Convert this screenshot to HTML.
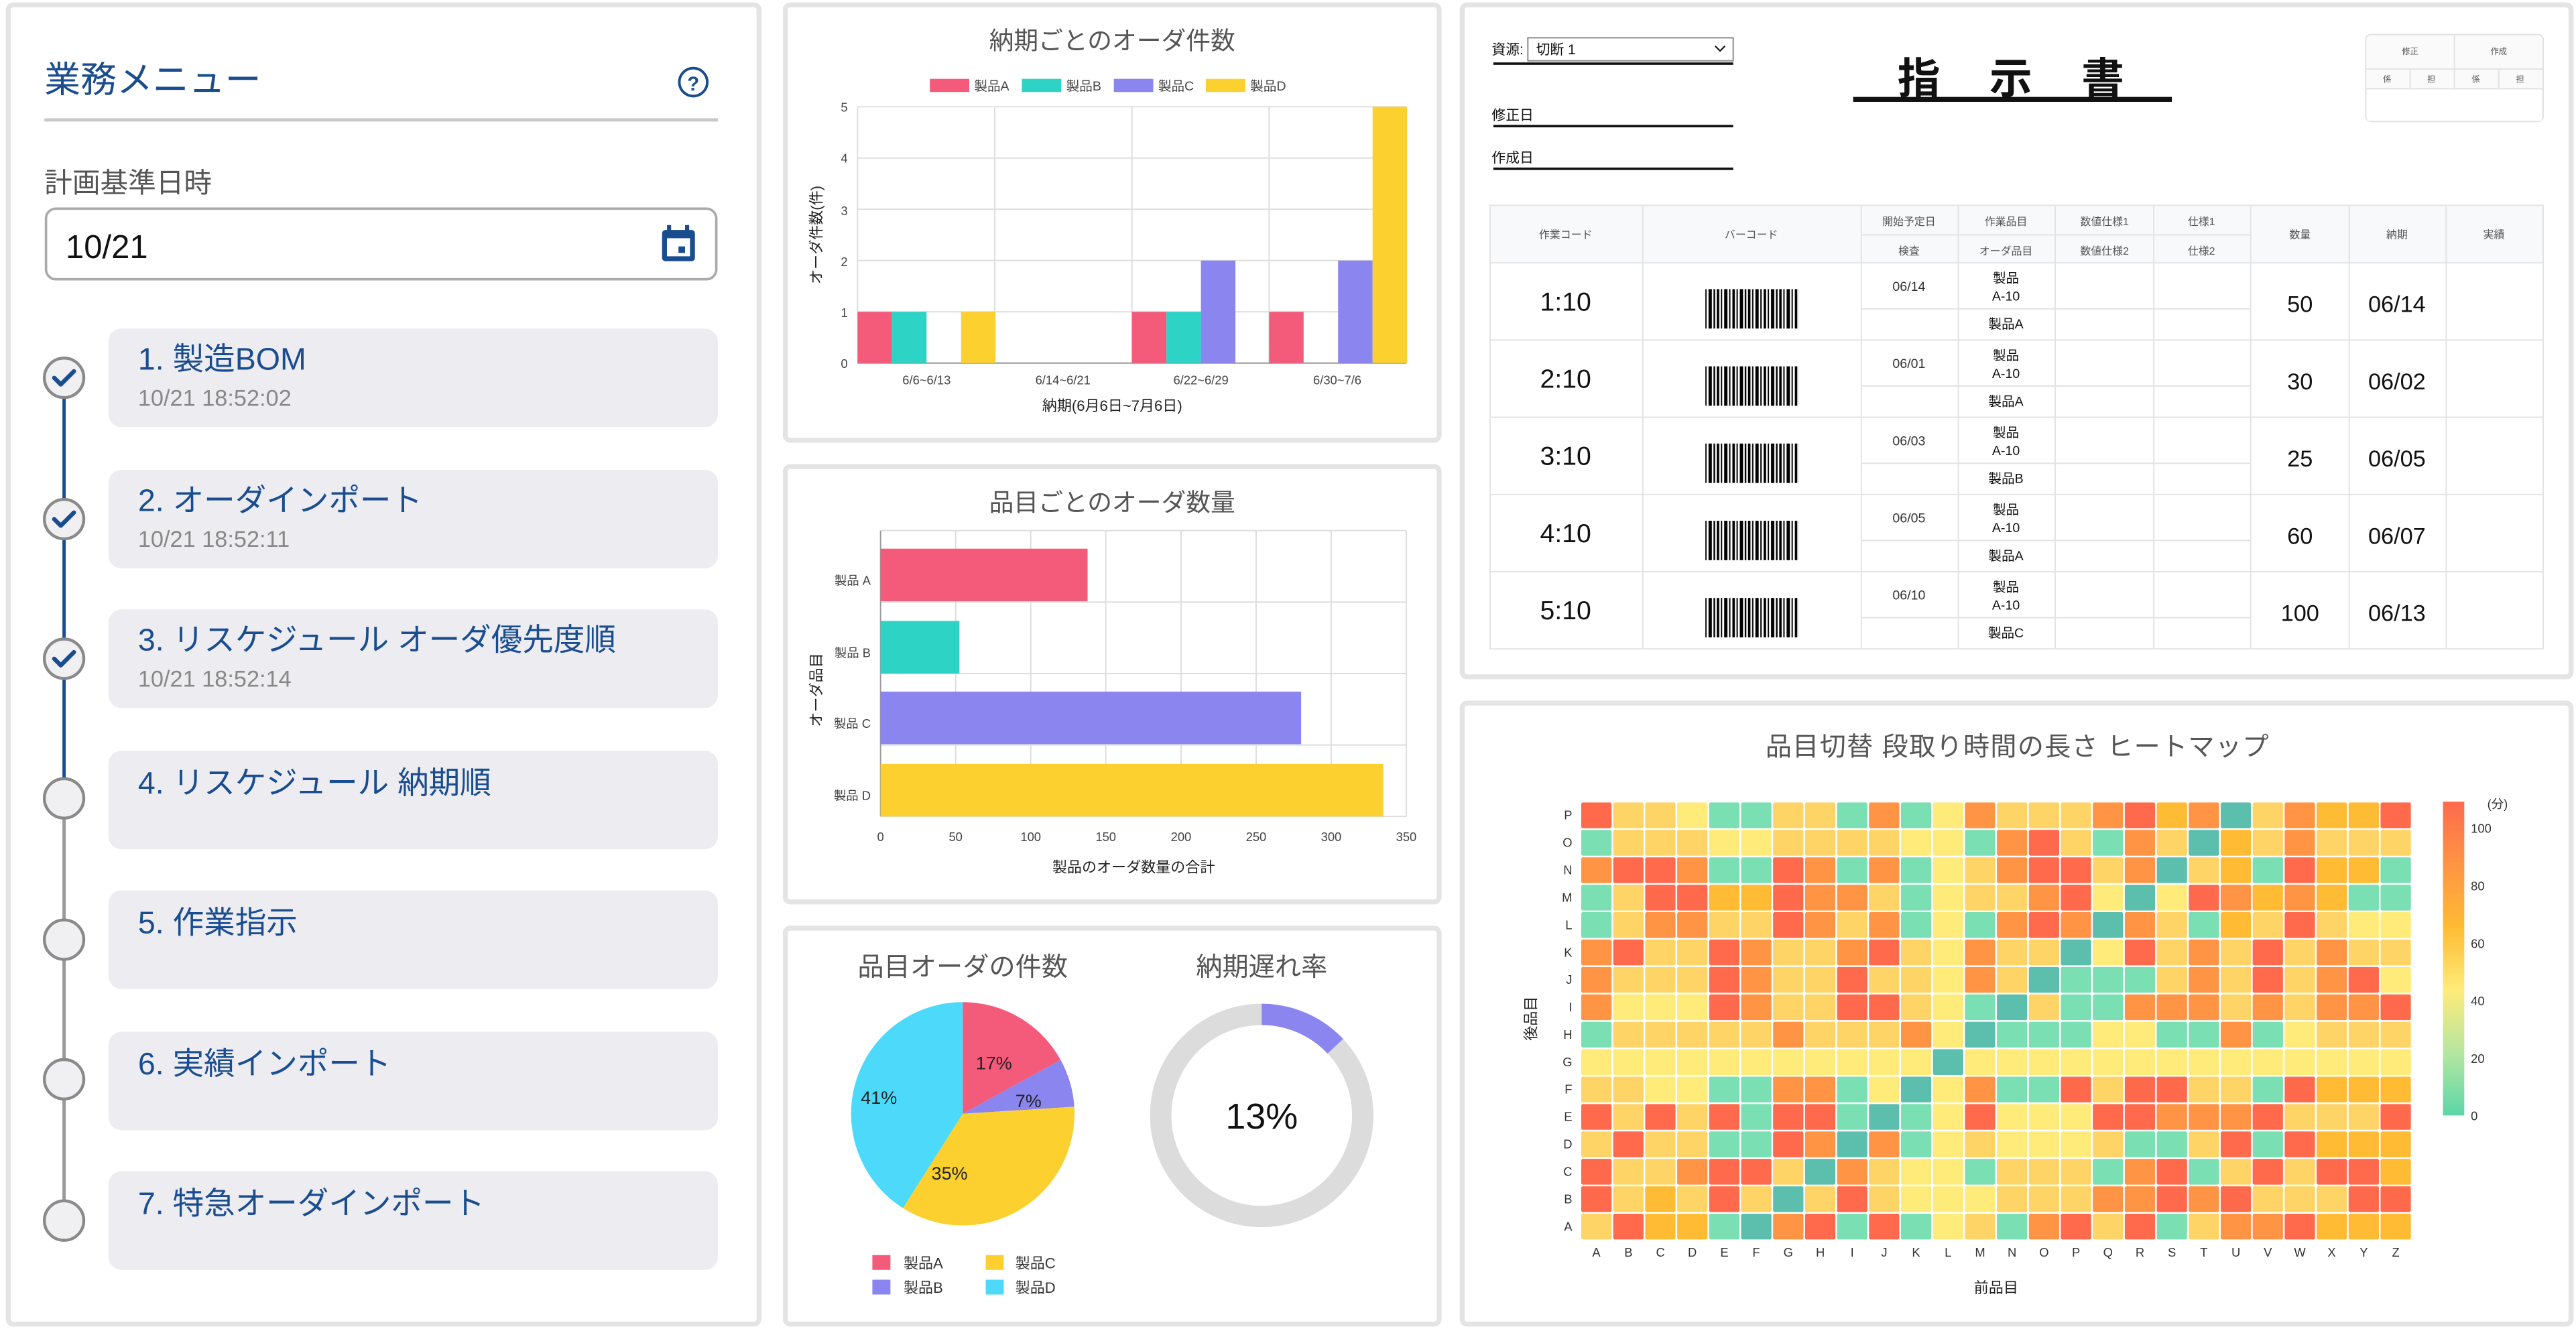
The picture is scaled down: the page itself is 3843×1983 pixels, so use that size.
<!DOCTYPE html>
<html><head><meta charset="utf-8">
<style>
html,body{margin:0;padding:0;background:#fff;}
svg{display:block;font-family:"Liberation Sans","Noto Sans CJK JP",sans-serif;}
</style></head>
<body>
<svg id="s" xmlns="http://www.w3.org/2000/svg" width="3843" height="1983" viewBox="0 0 1568 809" preserveAspectRatio="none">
<defs>
<pattern id="bc" x="0" y="0" width="19" height="30" patternUnits="userSpaceOnUse">
<rect x="0" y="0" width="1.5" height="30" fill="#000"/><rect x="2.5" y="0" width="0.8" height="30" fill="#000"/>
<rect x="4.5" y="0" width="2" height="30" fill="#000"/><rect x="7.5" y="0" width="0.8" height="30" fill="#000"/>
<rect x="9.5" y="0" width="1.5" height="30" fill="#000"/><rect x="12" y="0" width="0.8" height="30" fill="#000"/>
<rect x="14" y="0" width="2" height="30" fill="#000"/><rect x="17" y="0" width="1" height="30" fill="#000"/>
</pattern>
<linearGradient id="cb" x1="0" y1="0" x2="0" y2="1">
<stop offset="0" stop-color="#ff6a4d"/><stop offset="0.2" stop-color="#ff9444"/><stop offset="0.4" stop-color="#ffbb33"/>
<stop offset="0.6" stop-color="#ffeb7a"/><stop offset="0.8" stop-color="#b5e6a0"/><stop offset="1" stop-color="#5cd6a8"/>
</linearGradient>
</defs>
<rect width="1568" height="809" fill="#fff"/>
<!-- panels -->
<g fill="#fff" stroke="#e4e4e4" stroke-width="3">
<rect x="5" y="3" width="457" height="803" rx="3"/>
<rect x="478" y="3" width="398" height="265" rx="3"/>
<rect x="478" y="284" width="398" height="265" rx="3"/>
<rect x="478" y="565" width="398" height="241" rx="3"/>
<rect x="890" y="3" width="675" height="409" rx="3"/>
<rect x="890" y="428" width="675" height="378" rx="3"/>
</g>

<!-- LEFT PANEL -->
<text x="27" y="56" font-size="22" fill="#1a4d8f">業務メニュー</text>
<circle cx="422" cy="50" r="8.5" fill="none" stroke="#1a4d8f" stroke-width="1.6"/>
<text x="422" y="55" font-size="12" fill="#1a4d8f" text-anchor="middle" font-weight="bold">?</text>
<rect x="27" y="72" width="410" height="2" fill="#c8c8c8"/>
<text x="27" y="117" font-size="17" fill="#555">計画基準日時</text>
<rect x="28" y="127" width="408" height="43" rx="6" fill="#fff" stroke="#aaa" stroke-width="1.5"/>
<text x="40" y="157" font-size="20" fill="#111">10/21</text>
<g fill="#1a4d8f"><rect x="403" y="140" width="20" height="19" rx="2"/><rect x="406" y="145" width="14" height="11" fill="#fff"/><rect x="413" y="150" width="4" height="4"/><rect x="406" y="137" width="2.5" height="5"/><rect x="417" y="137" width="2.5" height="5"/></g>
<!-- step line -->
<line x1="39" y1="230" x2="39" y2="486" stroke="#1a4d8f" stroke-width="2"/>
<line x1="39" y1="486" x2="39" y2="742" stroke="#999" stroke-width="2"/>
<g fill="#ececf1">
<rect x="66" y="200" width="371" height="60" rx="8"/><rect x="66" y="286" width="371" height="60" rx="8"/>
<rect x="66" y="371" width="371" height="60" rx="8"/><rect x="66" y="457" width="371" height="60" rx="8"/>
<rect x="66" y="542" width="371" height="60" rx="8"/><rect x="66" y="628" width="371" height="60" rx="8"/>
<rect x="66" y="713" width="371" height="60" rx="8"/>
</g>
<g fill="#f0f0f3" stroke="#8a8a8a" stroke-width="1.8">
<circle cx="39" cy="230" r="12"/><circle cx="39" cy="316" r="12"/><circle cx="39" cy="401" r="12"/>
<circle cx="39" cy="486" r="12"/><circle cx="39" cy="572" r="12"/><circle cx="39" cy="657" r="12"/><circle cx="39" cy="743" r="12"/>
</g>
<g fill="none" stroke="#1a4d8f" stroke-width="2.6" stroke-linecap="round" stroke-linejoin="round">
<path d="M33 230 l4 4 l8 -8"/><path d="M33 316 l4 4 l8 -8"/><path d="M33 401 l4 4 l8 -8"/>
</g>
<g font-size="19" fill="#1a4d8f">
<text x="84" y="225">1. 製造BOM</text><text x="84" y="311">2. オーダインポート</text>
<text x="84" y="396">3. リスケジュール  オーダ優先度順</text><text x="84" y="483">4. リスケジュール  納期順</text>
<text x="84" y="568">5. 作業指示</text><text x="84" y="654">6. 実績インポート</text><text x="84" y="739">7. 特急オーダインポート</text>
</g>
<g font-size="14" fill="#888">
<text x="84" y="247">10/21 18:52:02</text><text x="84" y="333">10/21 18:52:11</text><text x="84" y="418">10/21 18:52:14</text>
</g>

<!-- CHART 1 -->
<text x="677" y="30" font-size="15" fill="#555" text-anchor="middle">納期ごとのオーダ件数</text>
<g font-size="8" fill="#444">
<rect x="566" y="48" width="24" height="8" fill="#f45b7a"/><text x="593" y="55">製品A</text>
<rect x="622" y="48" width="24" height="8" fill="#2dd4c5"/><text x="649" y="55">製品B</text>
<rect x="678" y="48" width="24" height="8" fill="#8b85f0"/><text x="705" y="55">製品C</text>
<rect x="734" y="48" width="24" height="8" fill="#fcd12f"/><text x="761" y="55">製品D</text>
</g>
<g stroke="#ddd" stroke-width="0.8">
<line x1="522" y1="65" x2="856" y2="65"/><line x1="522" y1="96.2" x2="856" y2="96.2"/><line x1="522" y1="127.4" x2="856" y2="127.4"/>
<line x1="522" y1="158.6" x2="856" y2="158.6"/><line x1="522" y1="189.8" x2="856" y2="189.8"/>
<line x1="522" y1="65" x2="522" y2="221"/><line x1="605.5" y1="65" x2="605.5" y2="221"/><line x1="689" y1="65" x2="689" y2="221"/><line x1="772.5" y1="65" x2="772.5" y2="221"/><line x1="856" y1="65" x2="856" y2="221"/>
</g>
<line x1="522" y1="221" x2="856" y2="221" stroke="#999" stroke-width="0.8"/>
<g font-size="7.5" fill="#444" text-anchor="end">
<text x="516" y="224">0</text><text x="516" y="193">1</text><text x="516" y="162">2</text><text x="516" y="131">3</text><text x="516" y="99">4</text><text x="516" y="68">5</text>
</g>
<g>
<rect x="522" y="189.8" width="21" height="31.2" fill="#f45b7a"/><rect x="543" y="189.8" width="21" height="31.2" fill="#2dd4c5"/><rect x="585" y="189.8" width="21" height="31.2" fill="#fcd12f"/>
<rect x="689" y="189.8" width="21" height="31.2" fill="#f45b7a"/><rect x="710" y="189.8" width="21" height="31.2" fill="#2dd4c5"/><rect x="731" y="158.6" width="21" height="62.4" fill="#8b85f0"/>
<rect x="772.5" y="189.8" width="21" height="31.2" fill="#f45b7a"/><rect x="814.5" y="158.6" width="21" height="62.4" fill="#8b85f0"/><rect x="835.5" y="65" width="21" height="156" fill="#fcd12f"/>
</g>
<g font-size="7.5" fill="#444" text-anchor="middle">
<text x="564" y="234">6/6~6/13</text><text x="647" y="234">6/14~6/21</text><text x="731" y="234">6/22~6/29</text><text x="814" y="234">6/30~7/6</text>
</g>
<text x="677" y="250" font-size="9" fill="#222" text-anchor="middle">納期(6月6日~7月6日)</text>
<text transform="translate(500,143) rotate(-90)" font-size="9" fill="#222" text-anchor="middle">オーダ件数(件)</text>

<!-- CHART 2 -->
<text x="677" y="311" font-size="15" fill="#555" text-anchor="middle">品目ごとのオーダ数量</text>
<g stroke="#ddd" stroke-width="0.8">
<line x1="536" y1="323" x2="856" y2="323"/><line x1="536" y1="366.5" x2="856" y2="366.5"/><line x1="536" y1="410" x2="856" y2="410"/><line x1="536" y1="453.5" x2="856" y2="453.5"/><line x1="536" y1="497" x2="856" y2="497"/>
<line x1="581.7" y1="323" x2="581.7" y2="497"/><line x1="627.4" y1="323" x2="627.4" y2="497"/><line x1="673.1" y1="323" x2="673.1" y2="497"/><line x1="718.9" y1="323" x2="718.9" y2="497"/><line x1="764.6" y1="323" x2="764.6" y2="497"/><line x1="810.3" y1="323" x2="810.3" y2="497"/><line x1="856" y1="323" x2="856" y2="497"/>
</g>
<line x1="536" y1="323" x2="536" y2="497" stroke="#999" stroke-width="0.8"/>
<rect x="536" y="334" width="126" height="32" fill="#f45b7a"/>
<rect x="536" y="378" width="48" height="32" fill="#2dd4c5"/>
<rect x="536" y="421" width="256" height="32" fill="#8b85f0"/>
<rect x="536" y="465" width="306" height="32" fill="#fcd12f"/>
<g font-size="7.5" fill="#444" text-anchor="end">
<text x="530" y="356">製品 A</text><text x="530" y="400">製品 B</text><text x="530" y="443">製品 C</text><text x="530" y="487">製品 D</text>
</g>
<g font-size="7.5" fill="#444" text-anchor="middle">
<text x="536" y="512">0</text><text x="581.7" y="512">50</text><text x="627.4" y="512">100</text><text x="673.1" y="512">150</text><text x="718.9" y="512">200</text><text x="764.6" y="512">250</text><text x="810.3" y="512">300</text><text x="856" y="512">350</text>
</g>
<text x="690" y="531" font-size="9" fill="#222" text-anchor="middle">製品のオーダ数量の合計</text>
<text transform="translate(500,420) rotate(-90)" font-size="9" fill="#222" text-anchor="middle">オーダ品目</text>

<!-- CHART 3 -->
<text x="586" y="594" font-size="16" fill="#555" text-anchor="middle">品目オーダの件数</text>
<text x="768" y="594" font-size="16" fill="#555" text-anchor="middle">納期遅れ率</text>
<path d="M586,678 L586,610 A68,68 0 0 1 645.6,645.2 Z" fill="#f45b7a"/>
<path d="M586,678 L645.6,645.2 A68,68 0 0 1 653.9,673.7 Z" fill="#8b85f0"/>
<path d="M586,678 L653.9,673.7 A68,68 0 0 1 549.6,735.4 Z" fill="#fcd12f"/>
<path d="M586,678 L549.6,735.4 A68,68 0 0 1 586,610 Z" fill="#4dd9f9"/>
<g font-size="11" fill="#222" text-anchor="middle">
<text x="605" y="651">17%</text><text x="626" y="674">7%</text><text x="578" y="718">35%</text><text x="535" y="672">41%</text>
</g>
<circle cx="768" cy="679" r="61.5" fill="none" stroke="#dcdcdc" stroke-width="13"/>
<circle cx="768" cy="679" r="61.5" fill="none" stroke="#8b85f0" stroke-width="13" stroke-dasharray="50.2 400" transform="rotate(-90 768 679)"/>
<text x="768" y="687" font-size="22" fill="#111" text-anchor="middle">13%</text>
<g font-size="9" fill="#333">
<rect x="531" y="764" width="11" height="9" fill="#f45b7a"/><text x="550" y="772">製品A</text>
<rect x="600" y="764" width="11" height="9" fill="#fcd12f"/><text x="618" y="772">製品C</text>
<rect x="531" y="779" width="11" height="9" fill="#8b85f0"/><text x="550" y="787">製品B</text>
<rect x="600" y="779" width="11" height="9" fill="#4dd9f9"/><text x="618" y="787">製品D</text>
</g>

<!-- INSTRUCTION SHEET -->
<text x="908" y="33" font-size="8.5" fill="#111">資源:</text>
<rect x="930" y="23" width="125" height="14" fill="#fff" stroke="#888" stroke-width="0.8"/>
<text x="935" y="33" font-size="8.5" fill="#111">切断 1</text>
<path d="M1044 28 l3 3 l3 -3" fill="none" stroke="#111" stroke-width="0.9"/>
<rect x="909" y="38" width="146" height="1.5" fill="#111"/>
<text x="908" y="73" font-size="8.5" fill="#111">修正日</text><rect x="909" y="76" width="146" height="1.5" fill="#111"/>
<text x="908" y="99" font-size="8.5" fill="#111">作成日</text><rect x="909" y="102" width="146" height="1.5" fill="#111"/>
<text x="1225" y="57" font-size="26" font-weight="bold" fill="#111" text-anchor="middle" letter-spacing="2">指　示　書</text>
<rect x="1128" y="59" width="194" height="3" fill="#111"/>
<!-- stamp -->
<rect x="1440" y="21" width="108" height="53" rx="3" fill="#fafafa" stroke="#e2e2e2" stroke-width="0.8"/>
<g stroke="#e2e2e2" stroke-width="0.8"><line x1="1440" y1="42" x2="1548" y2="42"/><line x1="1440" y1="54" x2="1548" y2="54"/><line x1="1494" y1="21" x2="1494" y2="74"/><line x1="1467" y1="42" x2="1467" y2="74"/><line x1="1521" y1="42" x2="1521" y2="74"/></g>
<rect x="1441" y="54.5" width="106" height="19" fill="#fff"/>
<g font-size="5" fill="#555" text-anchor="middle"><text x="1467" y="33">修正</text><text x="1521" y="33">作成</text><text x="1453" y="50">係</text><text x="1480" y="50">担</text><text x="1507" y="50">係</text><text x="1534" y="50">担</text></g>
<!-- table -->
<rect x="907" y="125" width="641" height="35" fill="#f8f9fa"/>
<g stroke="#e3e3e3" stroke-width="0.8" fill="none">
<rect x="907" y="125" width="641" height="270"/>
<line x1="907" y1="160" x2="1548" y2="160"/><line x1="1133" y1="143" x2="1370" y2="143"/>
<line x1="907" y1="207" x2="1548" y2="207"/><line x1="907" y1="254" x2="1548" y2="254"/><line x1="907" y1="301" x2="1548" y2="301"/><line x1="907" y1="348" x2="1548" y2="348"/>
<line x1="1133" y1="188" x2="1370" y2="188"/><line x1="1133" y1="235" x2="1370" y2="235"/><line x1="1133" y1="282" x2="1370" y2="282"/><line x1="1133" y1="329" x2="1370" y2="329"/><line x1="1133" y1="376" x2="1370" y2="376"/>
<line x1="1000" y1="125" x2="1000" y2="395"/><line x1="1133" y1="125" x2="1133" y2="395"/><line x1="1192" y1="125" x2="1192" y2="395"/><line x1="1251" y1="125" x2="1251" y2="395"/><line x1="1311" y1="125" x2="1311" y2="395"/><line x1="1370" y1="125" x2="1370" y2="395"/><line x1="1430" y1="125" x2="1430" y2="395"/><line x1="1489" y1="125" x2="1489" y2="395"/>
</g>
<g font-size="6.5" fill="#555" text-anchor="middle">
<text x="953" y="145">作業コード</text><text x="1066" y="145">バーコード</text>
<text x="1162" y="137">開始予定日</text><text x="1221" y="137">作業品目</text><text x="1281" y="137">数値仕様1</text><text x="1340" y="137">仕様1</text>
<text x="1162" y="155">検査</text><text x="1221" y="155">オーダ品目</text><text x="1281" y="155">数値仕様2</text><text x="1340" y="155">仕様2</text>
<text x="1400" y="145">数量</text><text x="1459" y="145">納期</text><text x="1518" y="145">実績</text>
</g>
<g id="rows"></g>

<!-- HEATMAP -->
<text x="1228" y="460" font-size="16" fill="#555" text-anchor="middle" letter-spacing="0.5">品目切替 段取り時間の長さ ヒートマップ</text>
<g id="hm"></g>
<rect x="1487" y="488" width="13" height="191" fill="url(#cb)"/>
<g font-size="7.5" fill="#333">
<text x="1514" y="492">(分)</text>
<text x="1504" y="507">100</text><text x="1504" y="542">80</text><text x="1504" y="577">60</text><text x="1504" y="612">40</text><text x="1504" y="647">20</text><text x="1504" y="682">0</text>
</g>
<text x="1215" y="787" font-size="9" fill="#222" text-anchor="middle">前品目</text>
<text transform="translate(935,620) rotate(-90)" font-size="9" fill="#222" text-anchor="middle">後品目</text>
</svg>
<script>
(function(){
var NS="http://www.w3.org/2000/svg";
function el(t,a,txt,p){var e=document.createElementNS(NS,t);for(var k in a)e.setAttribute(k,a[k]);if(txt!=null)e.textContent=txt;(p).appendChild(e);return e;}
var C={R:"#ff6a4d",O:"#ff9444",A:"#ffbb33",Y:"#ffd466",L:"#ffeb7a",G:"#7adfb3",T:"#5cbfae"};
var rows=[
"RYYLGGYYGOGLOYYYORAOTYOAAR",
"GYYYLLYYYYLLGORYGOYTAYOYYY",
"ORROGGROGOGLYORRYOTYAGRAAG",
"GYRRAAROOYGLYYORLTLROAOAGG",
"GYOOYYROYOGLGOROTOYGAYRYLL",
"ORYYROYYORYLOYYTLRYOYRYOYY",
"OYYYROYYRYYLOYTGGGYOYRYORL",
"OLLLROYYRRYLGTYGGOOOYOYOOR",
"GYYYYYOYYYOLTGGGLLGGOGLYYY",
"LLLLLLLLLLLTLLLLLLLLLLLLLL",
"YYLLGGOOGLTLOGGRYRRYYGRAAA",
"RYRYRGRRGTGLRLLLRROOORYYYR",
"YRYYGGROTOGLYLLLYGGYRGRAAA",
"RYYORRYTOYLLGYYYGORGYRYRRA",
"RYAYRYTYRYLLLYYYOORORYYYR R".replace(" ",""),
"YRAAGTORGRGLYGORYRGYOORAAA"];
var rl="PONMLKJIHGFEDCBA",cl="ABCDEFGHIJKLMNOPQRSTUVWXYZ";
var g=document.getElementById("hm"),x0=962,y0=488,cw=506/26,ch=267/16;
for(var r=0;r<16;r++){var s=rows[r];for(var c=0;c<26;c++){var k=s.charAt(c)||"Y";
el("rect",{x:(x0+c*cw+0.5).toFixed(2),y:(y0+r*ch+0.5).toFixed(2),width:(cw-1).toFixed(2),height:(ch-1).toFixed(2),rx:1,fill:C[k]},null,g);}
el("text",{x:957,y:(y0+r*ch+ch/2+2.5).toFixed(1),"font-size":7.5,fill:"#333","text-anchor":"end"},rl[r],g);}
for(var c=0;c<26;c++)el("text",{x:(x0+c*cw+cw/2).toFixed(1),y:765,"font-size":7.5,fill:"#333","text-anchor":"middle"},cl[c],g);
var data=[["1:10","06/14","A-10","製品A","50","06/14"],["2:10","06/01","A-10","製品A","30","06/02"],["3:10","06/03","A-10","製品B","25","06/05"],["4:10","06/05","A-10","製品A","60","06/07"],["5:10","06/10","A-10","製品C","100","06/13"]];
var rg=document.getElementById("rows");
for(var i=0;i<5;i++){var y=160+i*47,d=data[i];
el("text",{x:953,y:y+29,"font-size":16,fill:"#111","text-anchor":"middle"},d[0],rg);
el("rect",{x:1038,y:y+16,width:57,height:24,fill:"url(#bc)"},null,rg);
el("text",{x:1162,y:y+17,"font-size":8,fill:"#333","text-anchor":"middle"},d[1],rg);
el("text",{x:1221,y:y+12,"font-size":8,fill:"#111","text-anchor":"middle"},"製品",rg);
el("text",{x:1221,y:y+23,"font-size":8,fill:"#111","text-anchor":"middle"},d[2],rg);
el("text",{x:1221,y:y+40,"font-size":8,fill:"#111","text-anchor":"middle"},d[3],rg);
el("text",{x:1400,y:y+30,"font-size":14,fill:"#111","text-anchor":"middle"},d[4],rg);
el("text",{x:1459,y:y+30,"font-size":14,fill:"#111","text-anchor":"middle"},d[5],rg);}
})();
</script>
</body></html>
